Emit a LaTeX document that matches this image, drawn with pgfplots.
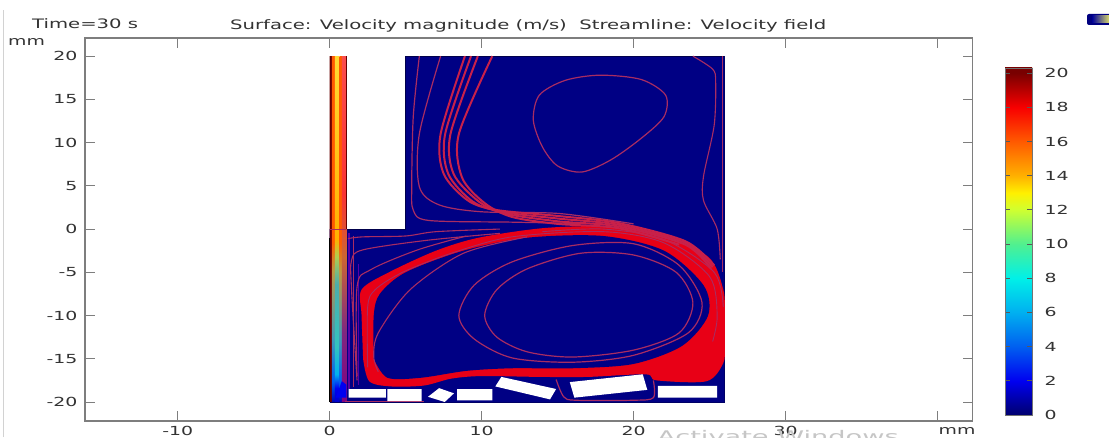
\documentclass[border=0pt]{standalone}
\usepackage{pgfplots}
\pgfplotsset{compat=1.18}
\usepackage{fontspec}
\setmainfont{DejaVu Sans}
\newfontfamily\wide[FakeStretch=1.51]{DejaVu Sans}
\newfontfamily\wider[FakeStretch=1.7]{DejaVu Sans}
\definecolor{txt}{HTML}{333333}
\definecolor{axg}{HTML}{7E7E7E}
\definecolor{dom}{HTML}{000084}
\definecolor{sl}{HTML}{A82C62}
\definecolor{band}{HTML}{E80016}
\definecolor{bun}{HTML}{C8204A}
\definecolor{c0}{HTML}{00006E}\definecolor{c2}{HTML}{0000F0}\definecolor{c4}{HTML}{0060F0}
\definecolor{c6}{HTML}{00B0F0}\definecolor{c8}{HTML}{00F0E8}\definecolor{c10}{HTML}{50F090}
\definecolor{c12}{HTML}{D0FF30}\definecolor{c13}{HTML}{FFF000}\definecolor{c14}{HTML}{FFB000}
\definecolor{c16}{HTML}{FF5A00}\definecolor{c18}{HTML}{F80000}\definecolor{c20}{HTML}{780000}
% colour bar: the bar maps to 25bp..75bp, value/20.3
\pgfdeclareverticalshading{cbar}{100bp}{color(0bp)=(c0);color(25bp)=(c0);color(29.9bp)=(c2);color(34.9bp)=(c4);color(39.8bp)=(c6);color(44.7bp)=(c8);color(49.6bp)=(c10);color(54.6bp)=(c12);color(57bp)=(c13);color(59.5bp)=(c14);color(64.4bp)=(c16);color(69.3bp)=(c18);color(74.3bp)=(c20);color(75bp)=(c20);color(100bp)=(c20)}
% jet columns: bbox (y -20..20) maps to 25bp..75bp
\pgfdeclareverticalshading{jetmid}{100bp}{color(0bp)=(blue!80!black);color(25bp)=(blue!80!black);color(27bp)=(c2);color(29bp)=(c6);color(33bp)=(c8!60!gray);color(42bp)=(c8!40!gray);color(46bp)=(c12!60!gray);color(48.5bp)=(c14);color(75bp)=(c14!60!yellow!80!white);color(100bp)=(c14)}
\pgfdeclareverticalshading{jetside}{100bp}{color(0bp)=(blue!70!black);color(25bp)=(blue!70!black);color(28bp)=(c4);color(34bp)=(c6!50!gray);color(44bp)=(c14!50!gray);color(48bp)=(c16);color(75bp)=(c16);color(100bp)=(c16)}
\pgfdeclareverticalshading{jetedge}{100bp}{color(0bp)=(violet);color(25bp)=(violet);color(35bp)=(violet!70!gray);color(46bp)=(brown!80!red);color(55bp)=(c18!80!white);color(75bp)=(c18!70!white);color(100bp)=(c18)}
\begin{document}
\begin{tikzpicture}[x=1pt,y=1pt]
\clip (0,0) rectangle (1109,437);
\path[fill=white] (0,0) rectangle (1109,437);
\draw[gray!35,line width=0.8pt] (3.5,0) -- (3.5,427);
\begin{axis}[
  at={(85pt,16pt)},anchor=south west,
  scale only axis,width=887.5pt,height=383pt,
  xmin=-16.1,xmax=42.3,ymin=-22.2,ymax=22.1,
  axis line style={axg,line width=1.1pt},
  tick style={axg,line width=0.9pt},
  major tick length=10pt,
  tick align=inside,
  xtick={-10,0,10,20,30,40},
  xticklabels={-10,0,10,20,30,},
  ytick={-20,-15,-10,-5,0,5,10,15,20},
  yticklabels={-20,-15,-10,-5,0,5,10,15,20},
  tick label style={font=\wide\fontsize{12.5}{13}\selectfont,text=txt},
  xticklabel style={yshift=-2pt},
  yticklabel style={xshift=-4pt},
  clip=true,
]
% domain
\addplot[fill=dom,draw=none] coordinates {(0,-20)(26,-20)(26,20)(5,20)(5,0)(0,0)(0,-20)};
\addplot[draw=black!70!blue,line width=0.7pt] coordinates {(1,0)(5,0)(5,20)(26,20)};
\addplot[draw=black!60!blue,line width=0.9pt] coordinates {(0,-20)(26,-20)(26,20)};
% jet
\addplot[fill=black!60!red,draw=none] coordinates {(0,-20)(0.15,-20)(0.15,20)(0,20)(0,-20)};
\addplot[shading=jetside,draw=none] coordinates {(0.15,-20)(0.35,-20)(0.35,20)(0.15,20)(0.15,-20)};
\addplot[shading=jetmid,draw=none] coordinates {(0.35,-20)(0.65,-20)(0.65,20)(0.35,20)(0.35,-20)};
\addplot[shading=jetside,draw=none] coordinates {(0.65,-20)(0.8,-20)(0.8,20)(0.65,20)(0.65,-20)};
\addplot[shading=jetedge,draw=none] coordinates {(0.8,-20)(1.1,-20)(1.1,20)(0.8,20)(0.8,-20)};
\addplot[draw=black!60!red,line width=0.8pt] coordinates {(1.1,0)(1.1,20)};
\addplot[draw=sl,line width=0.6pt] coordinates {(0,0)(1.1,0)};
\addplot[draw=black,line width=0.8pt] coordinates {(0,-20)(0,-1)};
% purple lines beside jet
\addplot[draw=violet!70!blue,line width=2pt] coordinates {(1.3,-0.5)(1.3,-18.5)};
\addplot[draw=sl,line width=1pt] coordinates {(1.6,-0.8)(1.6,-18.3)};
\addplot[draw=violet!70!blue,line width=1.5pt] coordinates {(1.9,-4)(1.9,-18)};
% red band
\addplot[fill=band,draw=none,smooth,tension=0.5] coordinates {(2.2,-15)(2.6,-17.6)(4,-18.2)(6.2,-18.1)(8,-17.3)(10,-17)(13.8,-17.1)(17,-17.1)(20.8,-16.8)(21.5,-17.5)(24.8,-17.6)(25.9,-15.5)(26,-13.5)(26,-10)(25.9,-7)(24.9,-3.2)(21.5,-0.6)(18,0.3)(14,0.1)(9.8,-1)(7,-2.5)(3.9,-5)(2.1,-7)(2.1,-10)(2.2,-15)};
\addplot[fill=dom,draw=none,smooth,tension=0.5] coordinates {(2.9,-15)(2.9,-10)(3.3,-7.5)(5,-5)(8.8,-2.5)(13,-1)(18,-0.8)(22,-2.5)(24.6,-6.5)(24.9,-10)(23.2,-13.5)(20,-15.6)(16,-16.1)(12,-16.1)(9,-16.4)(6,-17.2)(3.8,-17.2)(2.9,-15)};
% stripes in band
\addplot[draw=sl,line width=0.9pt,smooth] coordinates {(2.5,-16)(2.5,-9)(3,-7)(4.8,-5)(8,-2.8)(12,-0.9)(18,-0.3)(22,-1.6)(25,-5.5)(25.5,-10)(25.2,-13)};
\addplot[draw=sl,line width=0.9pt,smooth] coordinates {(14,-0.3)(18,0)(22,-1.2)(25.3,-5)(25.9,-9)};
% blue gap by the wall at the band and lines there
\addplot[draw=sl,line width=1.1pt,smooth] coordinates {(1.8,-17.5)(1.44,-7)(1.44,-3.6)(2.2,-2.4)(6.4,-1.3)(11.2,-0.5)};
\addplot[draw=sl,line width=1.1pt,smooth] coordinates {(1.2,-1.1)(2.2,-0.9)(5,-0.8)(7,-0.3)(11.2,0)};
\addplot[draw=sl,line width=1.1pt,smooth] coordinates {(1.8,-17)(1.8,-6.7)(2.7,-4.7)(5.8,-2.4)(9,-0.8)};
\addplot[draw=sl,line width=1.1pt,smooth] coordinates {(3.2,-16.5)(2.9,-14.8)(3.2,-12)(5.3,-7)(8.8,-2.8)(13,-0.9)};
% lower vortex loops
\addplot[draw=sl,line width=1.2pt,smooth cycle] coordinates {(8.5,-10)(9.5,-6.5)(12,-3.8)(16,-1.9)(20,-1.7)(23,-4.2)(24.5,-8.5)(23.6,-12)(20,-14.6)(16,-15.4)(12,-14.9)(9.5,-12.7)};
\addplot[draw=sl,line width=1.2pt,smooth cycle] coordinates {(10.2,-10)(11,-7)(13,-4.6)(16.5,-2.8)(20,-3)(22.8,-5)(23.9,-8.5)(23,-12)(20,-14)(16,-14.8)(13,-14.2)(11,-12.5)};
% upper vortex
\addplot[draw=sl,line width=1.2pt,smooth cycle] coordinates {(13.4,12.6)(13.8,15.5)(15.5,17.2)(17.8,17.8)(20.5,17.3)(22.1,15.5)(22,13)(20.5,10.5)(18.5,8)(16.6,6.6)(15,7.3)(14,9.5)};
% upper chamber lines
\addplot[draw=sl,line width=1.2pt,smooth] coordinates {(5.9,20)(5.5,13)(5.4,5)(5.5,2.2)(6.5,1)(12,0.8)(18,0.6)};
\addplot[draw=sl,line width=1.2pt,smooth] coordinates {(7.3,20)(5.9,11)(5.9,4.9)(7.2,2.8)(10,2)(15.1,1.8)(20,0.6)};
\addplot[draw=bun,line width=2pt,smooth] coordinates {(8.9,20)(7.3,11)(7.5,6.4)(9.1,3.3)(11,2.2)(15.1,1.5)(19,0.7)(23.4,-1.4)(25.3,-4.2)};
\addplot[draw=bun,line width=2pt,smooth] coordinates {(9.3,20)(7.6,11)(7.8,6.4)(9.4,3.2)(11.3,2)(15.1,1.2)(19,0.5)(23.4,-1.6)(25.2,-4.4)};
\addplot[draw=bun,line width=2pt,smooth] coordinates {(9.75,20)(7.95,11)(8.15,6.4)(9.8,3.2)(11.5,1.8)(15,0.9)(19,0.3)(23.4,-1.8)(25.1,-4.6)};
\addplot[draw=bun,line width=2pt,smooth] coordinates {(10.7,20)(8.5,11)(8.7,6)(10.2,3)(12,1.4)(15,0.6)(19,0.1)(23,-1.8)};
% upper right lines
\addplot[draw=sl,line width=1.1pt,smooth] coordinates {(23.9,20)(25.2,18.5)(25.4,17)(25.3,12)(24.6,6.1)(24.6,3.3)(25.5,0)(25.7,-3.5)};
\addplot[draw=sl,line width=1.1pt] coordinates {(25.85,20)(25.85,-5)};
% frame around the tilted block
\addplot[draw=sl,line width=1.2pt,smooth] coordinates {(14.9,-17.4)(15.4,-19.4)(16.2,-19.8)(20,-19.8)(21.3,-19.5)(21.3,-17.5)};
\addplot[draw=sl,line width=0.8pt] coordinates {(1,-19.9)(6.2,-19.9)};
% jet foot
\addplot[fill=c2,draw=none] coordinates {(0.4,-19.5)(1.1,-19.5)(1.1,-18)(0.8,-17.6)(0.4,-19.5)};
% white blocks
\addplot[fill=white,draw=none] coordinates {(1.25,-18.5)(3.7,-18.5)(3.7,-19.5)(1.25,-19.5)(1.25,-18.5)};
\addplot[fill=white,draw=none] coordinates {(3.8,-18.5)(6.05,-18.5)(6.05,-19.9)(3.8,-19.9)(3.8,-18.5)};
\addplot[fill=white,draw=none] coordinates {(6.47,-19.4)(7.2,-18.4)(8.18,-19)(7.57,-20)(6.47,-19.4)};
\addplot[fill=white,draw=none] coordinates {(8.38,-18.5)(10.7,-18.5)(10.7,-19.8)(8.38,-19.8)(8.38,-18.5)};
\addplot[fill=white,draw=none] coordinates {(11.3,-17.1)(14.9,-18.5)(14.5,-19.7)(10.9,-18.2)(11.3,-17.1)};
\addplot[fill=white,draw=none] coordinates {(15.8,-17.7)(20.6,-16.8)(20.9,-18.6)(16.1,-19.5)(15.8,-17.7)};
\addplot[fill=white,draw=none] coordinates {(21.6,-18.15)(25.5,-18.15)(25.5,-19.5)(21.6,-19.5)(21.6,-18.15)};
\draw[axg,line width=2.6pt] (rel axis cs:0,0) -- (rel axis cs:0,1);
\end{axis}
% colour bar
\begin{axis}[
  at={(1005pt,22pt)},anchor=south west,
  scale only axis,width=27pt,height=347pt,
  xmin=0,xmax=1,ymin=0,ymax=20.3,
  xtick=\empty,
  ytick={0,2,...,20},
  yticklabels={0,2,4,6,8,10,12,14,16,18,20},
  tick align=inside,
  ytick pos=both,
  yticklabel pos=right,
  major tick length=5pt,
  tick style={black!65,line width=0.8pt},
  axis line style={black!55,line width=0.8pt},
  tick label style={font=\wide\fontsize{12.5}{13}\selectfont,text=txt},
  yticklabel style={xshift=9pt},
  axis on top,
]
\addplot[shading=cbar,draw=none] coordinates {(0,0)(1,0)(1,20.3)(0,20.3)(0,0)};
\end{axis}
% texts
\node[text=txt,anchor=west,inner sep=0pt,font=\wide\fontsize{13}{14}\selectfont] at (32,413) {Time=30 s};
\node[text=txt,anchor=west,inner sep=0pt,font=\wide\fontsize{13}{14}\selectfont] at (230,411) {Surface: Velocity magnitude (m/s)\ \ Streamline: Velocity field};
\node[text=txt,anchor=west,inner sep=0pt,font=\wide\fontsize{12.5}{13}\selectfont] at (8,395) {mm};
\node[text=txt,font=\wide\fontsize{12.5}{13}\selectfont] at (957,6) {mm};
\node[text=gray!45,anchor=west,inner sep=0pt,font=\wider\fontsize{16}{17}\selectfont] at (657,0) {Activate Windows};
% little icon
\fill[blue!50!black,rounded corners=2pt] (1087,412) rectangle (1115,423);
\shade[left color=blue!60!black,right color=yellow!60!white] (1092,414) rectangle (1112,421);
\end{tikzpicture}
\end{document}
